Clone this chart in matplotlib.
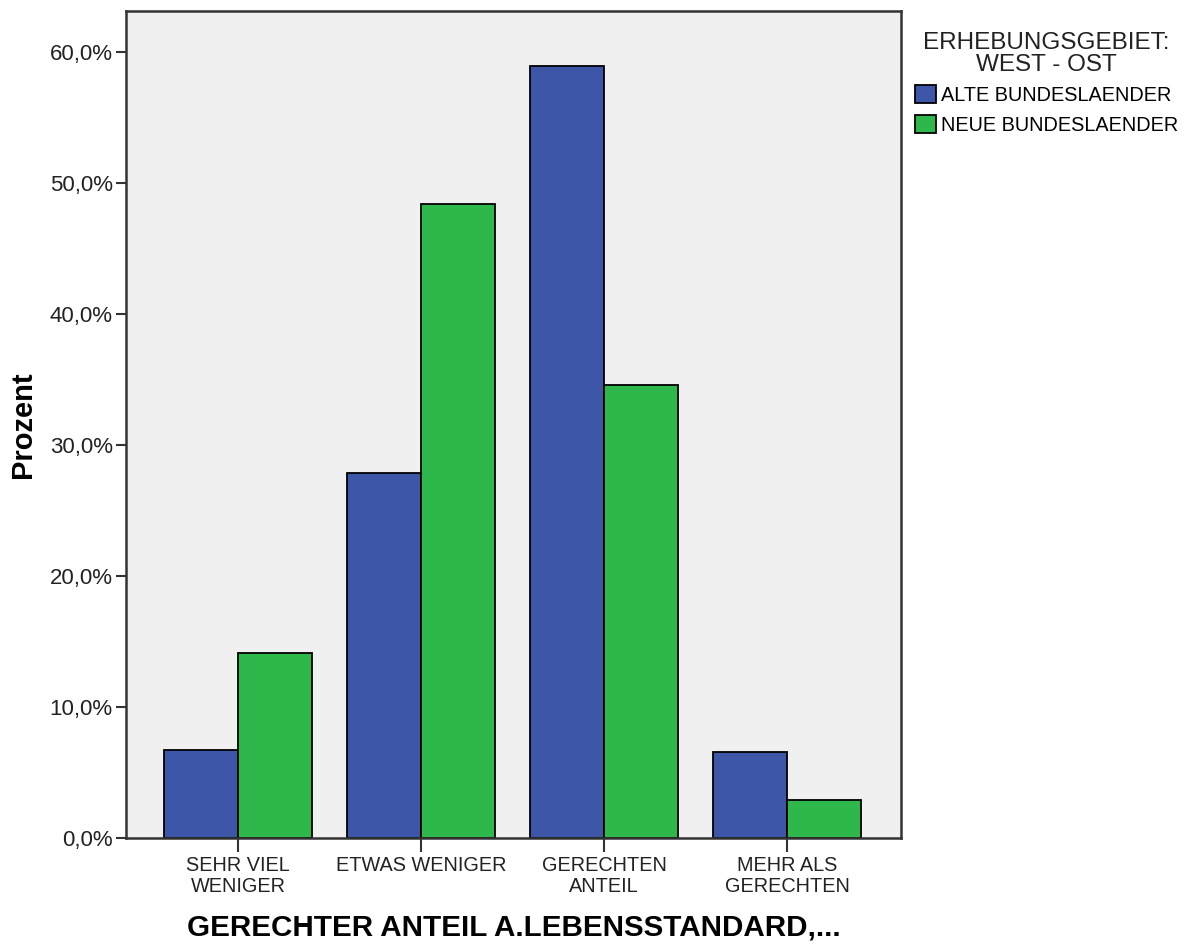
import matplotlib
matplotlib.use("Agg")
import matplotlib.pyplot as plt
from matplotlib.patches import Patch
import numpy as np

plt.rcParams['font.family'] = ['Liberation Sans', 'DejaVu Sans']

categories = ["SEHR VIEL\nWENIGER", "ETWAS WENIGER", "GERECHTEN\nANTEIL", "MEHR ALS\nGERECHTEN"]
alte = [6.7, 27.9, 58.9, 6.6]
neue = [14.1, 48.4, 34.6, 2.9]
series_names = ["ALTE BUNDESLAENDER", "NEUE BUNDESLAENDER"]
colors = ["#3D56A8", "#2EB84B"]
yticks = [0, 10, 20, 30, 40, 50, 60]

fig = plt.figure(figsize=(11.89, 9.51), dpi=100)
ax = fig.add_axes([126/1189, 1-838/951, (901-126)/1189, (838-11)/951])
ax.set_facecolor("#F0F0F0")

x = np.arange(len(categories))
w = 0.404
ax.bar(x - w/2, alte, w, color=colors[0], edgecolor="black", linewidth=1.3, zorder=2)
ax.bar(x + w/2, neue, w, color=colors[1], edgecolor="black", linewidth=1.3, zorder=2)

ax.set_xlim(-0.612, 3.623)
ax.set_ylim(0, 63.13)
ax.set_yticks(yticks)
ax.set_yticklabels([f"{v:.1f}%".replace(".", ",") for v in yticks], fontsize=16, color="#222222")
ax.set_xticks(x)
ax.set_xticklabels(categories, fontsize=14.3, color="#222222", linespacing=1.1)
ax.tick_params(axis='y', length=7.5, width=1.5, color="#333333", pad=2)
ax.tick_params(axis='x', length=10, width=1.5, color="#333333", pad=3)
for s in ax.spines.values():
    s.set_linewidth(1.8)
    s.set_color("#333333")

ax.set_ylabel("Prozent", fontsize=21, fontweight="bold", labelpad=9)
ax.set_xlabel("GERECHTER ANTEIL A.LEBENSSTANDARD,...", fontsize=21.3, fontweight="bold", labelpad=13)

handles = [Patch(facecolor=c, edgecolor="black", linewidth=1.3) for c in colors]
leg = ax.legend(handles, series_names, loc="upper left", bbox_to_anchor=(1.0, 0.992),
                frameon=False, title="ERHEBUNGSGEBIET:\nWEST - OST", fontsize=14.3,
                title_fontsize=17.5, handlelength=1.05, handleheight=1.0, handletextpad=0.25,
                labelspacing=0.5, borderaxespad=0.3)
leg.get_title().set_multialignment("center")
leg.get_title().set_color("#222222")
leg.get_title().set_linespacing(1.0)

fig.savefig("out.png", dpi=100, facecolor="white")
